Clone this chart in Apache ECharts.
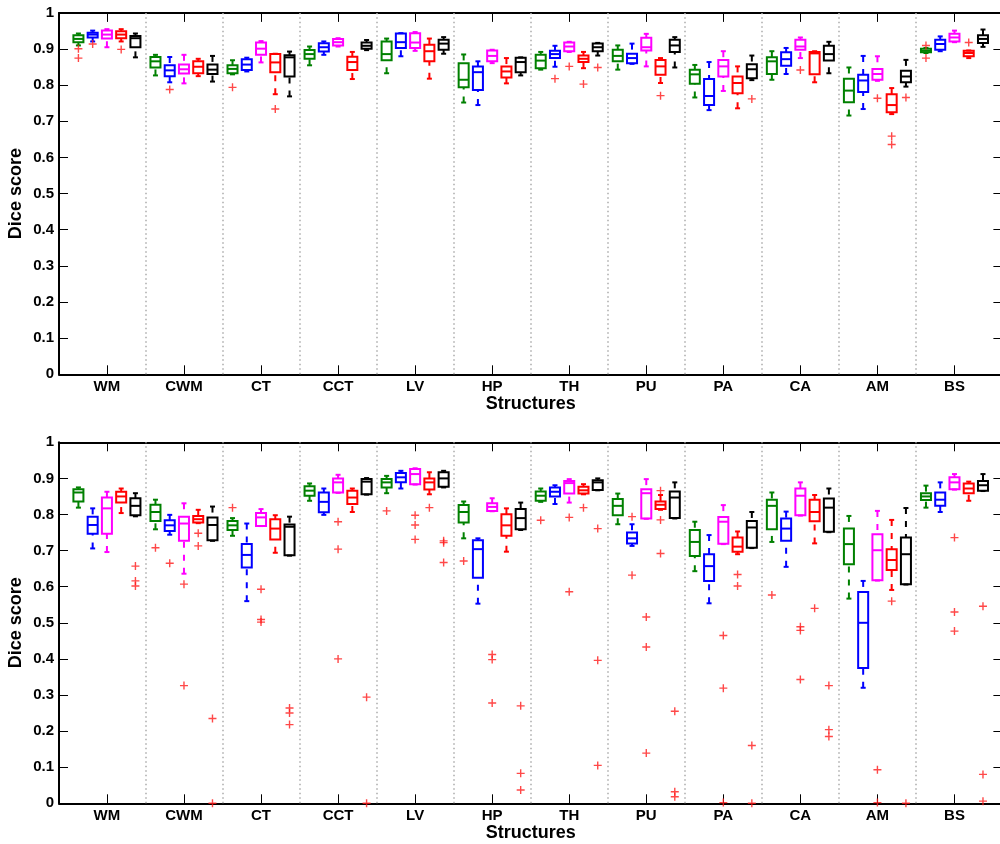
<!DOCTYPE html>
<html>
<head>
<meta charset="utf-8">
<script src="https://cdn.jsdelivr.net/npm/echarts@6/dist/echarts.min.js"></script>
<style>
html,body{margin:0;padding:0;background:#fff;}
#chart{width:1000px;height:844px;}
</style>
</head>
<body>
<div id="chart"></div>
<script>
// ---------------- DATA ----------------
const categories = ['WM','CWM','CT','CCT','LV','HP','TH','PU','PA','CA','AM','BS'];
const methodColors = ['#008000','#0000ff','#ff00ff','#ff0000','#000000'];
const yTicks = [0,0.1,0.2,0.3,0.4,0.5,0.6,0.7,0.8,0.9,1];

// rows: [min whisker, q1, median, q3, max whisker] per category
// ---- top panel ----
const topGreen = [
 [0.910,0.919,0.928,0.938,0.943],[0.827,0.849,0.866,0.878,0.884],[0.830,0.833,0.845,0.855,0.869],
 [0.855,0.873,0.886,0.897,0.907],[0.833,0.869,0.886,0.921,0.929],[0.752,0.794,0.815,0.861,0.885],
 [0.843,0.847,0.868,0.884,0.892],[0.843,0.866,0.881,0.898,0.910],[0.766,0.804,0.830,0.843,0.856],
 [0.815,0.831,0.866,0.877,0.894],[0.716,0.753,0.785,0.818,0.849],[0.889,0.891,0.895,0.901,0.903]];
const topBlue = [
 [0.921,0.932,0.940,0.945,0.951],[0.808,0.825,0.841,0.855,0.878],[0.838,0.842,0.857,0.872,0.876],
 [0.884,0.893,0.905,0.916,0.921],[0.880,0.903,0.919,0.943,0.944],[0.745,0.787,0.836,0.852,0.866],
 [0.851,0.875,0.886,0.895,0.909],[0.859,0.861,0.875,0.887,0.915],[0.731,0.745,0.770,0.817,0.864],
 [0.831,0.854,0.872,0.891,0.903],[0.734,0.781,0.813,0.829,0.881],[0.894,0.898,0.914,0.926,0.935]];
const topMagenta = [
 [0.905,0.929,0.940,0.951,0.955],[0.805,0.832,0.844,0.857,0.884],[0.863,0.884,0.901,0.918,0.922],
 [0.907,0.910,0.919,0.928,0.930],[0.895,0.903,0.918,0.944,0.947],[0.861,0.866,0.881,0.896,0.898],
 [0.892,0.894,0.907,0.918,0.920],[0.852,0.896,0.905,0.931,0.942],[0.784,0.824,0.852,0.870,0.894],
 [0.875,0.898,0.907,0.926,0.932],[0.812,0.815,0.831,0.845,0.880],[0.919,0.921,0.932,0.942,0.951]];
const topRed = [
 [0.921,0.930,0.940,0.949,0.955],[0.825,0.833,0.851,0.866,0.873],[0.775,0.836,0.863,0.886,0.887],
 [0.817,0.842,0.864,0.879,0.892],[0.818,0.866,0.894,0.912,0.929],[0.805,0.821,0.838,0.852,0.875],
 [0.847,0.864,0.873,0.882,0.892],[0.806,0.829,0.852,0.870,0.875],[0.736,0.778,0.806,0.824,0.852],
 [0.808,0.830,0.888,0.892,0.894],[0.720,0.725,0.745,0.775,0.792],[0.875,0.880,0.889,0.895,0.896]];
const topBlack = [
 [0.877,0.905,0.930,0.936,0.943],[0.810,0.831,0.843,0.857,0.881],[0.769,0.824,0.877,0.883,0.893],
 [0.897,0.901,0.909,0.918,0.925],[0.887,0.898,0.915,0.926,0.933],[0.827,0.836,0.864,0.876,0.877],
 [0.882,0.894,0.905,0.915,0.917],[0.849,0.892,0.910,0.926,0.933],[0.814,0.819,0.844,0.858,0.882],
 [0.833,0.868,0.886,0.909,0.920],[0.796,0.808,0.824,0.840,0.870],[0.906,0.917,0.928,0.938,0.954]];
// outliers: [category index, value]
const topOutGreen = [[0,0.901],[0,0.875],[2,0.794],[11,0.910],[11,0.875]];
const topOutBlue = [[0,0.914],[1,0.788],[6,0.818]];
const topOutMagenta = [[6,0.852],[9,0.842],[10,0.764]];
const topOutRed = [[0,0.899],[2,0.734],[6,0.803],[7,0.771],[10,0.659],[10,0.636],[11,0.918]];
const topOutBlack = [[6,0.849],[8,0.762],[10,0.766]];

// ---- bottom panel ----
const botGreen = [
 [0.819,0.836,0.861,0.870,0.875],[0.759,0.782,0.807,0.827,0.841],[0.741,0.757,0.770,0.782,0.790],
 [0.838,0.852,0.866,0.878,0.886],[0.859,0.875,0.889,0.898,0.907],[0.734,0.778,0.807,0.826,0.836],
 [0.835,0.838,0.852,0.864,0.872],[0.773,0.798,0.824,0.843,0.858],[0.643,0.685,0.724,0.757,0.780],
 [0.724,0.759,0.824,0.841,0.861],[0.567,0.662,0.718,0.761,0.796],[0.819,0.840,0.850,0.859,0.880]];
const botBlue = [
 [0.706,0.747,0.771,0.794,0.817],[0.744,0.754,0.770,0.784,0.799],[0.560,0.653,0.688,0.718,0.775],
 [0.799,0.806,0.835,0.861,0.872],[0.872,0.889,0.903,0.915,0.921],[0.553,0.625,0.704,0.729,0.734],
 [0.829,0.850,0.863,0.875,0.881],[0.713,0.720,0.734,0.750,0.773],[0.554,0.616,0.657,0.690,0.743],
 [0.655,0.727,0.761,0.789,0.808],[0.320,0.375,0.500,0.585,0.616],[0.807,0.824,0.841,0.861,0.889]];
const botMagenta = [
 [0.696,0.747,0.817,0.847,0.863],[0.636,0.727,0.775,0.794,0.831],[0.768,0.768,0.792,0.804,0.815],
 [0.860,0.861,0.889,0.900,0.910],[0.883,0.884,0.912,0.926,0.928],[0.809,0.810,0.821,0.831,0.845],
 [0.833,0.858,0.887,0.893,0.898],[0.788,0.789,0.859,0.870,0.898],[0.718,0.719,0.780,0.793,0.826],
 [0.797,0.798,0.852,0.872,0.889],[0.617,0.618,0.701,0.745,0.810],[0.869,0.870,0.889,0.903,0.912]];
const botRed = [
 [0.804,0.833,0.850,0.863,0.872],[0.776,0.778,0.787,0.796,0.813],[0.694,0.731,0.761,0.787,0.798],
 [0.807,0.829,0.847,0.866,0.872],[0.856,0.869,0.889,0.900,0.917],[0.697,0.741,0.770,0.801,0.817],
 [0.856,0.858,0.867,0.877,0.884],[0.813,0.815,0.827,0.836,0.854],[0.690,0.697,0.711,0.736,0.753],
 [0.720,0.781,0.807,0.841,0.854],[0.591,0.646,0.674,0.704,0.785],[0.838,0.859,0.872,0.886,0.891]];
const botBlack = [
 [0.795,0.798,0.824,0.845,0.859],[0.727,0.729,0.771,0.792,0.822],[0.686,0.687,0.766,0.772,0.794],
 [0.855,0.856,0.891,0.898,0.901],[0.875,0.877,0.900,0.917,0.921],[0.757,0.759,0.790,0.815,0.833],
 [0.867,0.868,0.889,0.895,0.900],[0.789,0.790,0.847,0.864,0.889],[0.707,0.708,0.764,0.782,0.807],
 [0.751,0.752,0.819,0.844,0.872],[0.606,0.607,0.690,0.736,0.818],[0.865,0.866,0.881,0.893,0.912]];
const botOutGreen = [[1,0.708],[2,0.819],[4,0.810],[5,0.671],[6,0.784],[9,0.577]];
const botOutBlue = [[1,0.665],[7,0.794],[7,0.632]];
const botOutMagenta = [[1,0.607],[1,0.326],[2,0.593],[2,0.509],[2,0.502],[3,0.780],[3,0.704],[3,0.400],
 [4,0.798],[4,0.771],[4,0.731],[5,0.412],[5,0.398],[5,0.278],[6,0.792],[6,0.586],[7,0.516],[7,0.433],[7,0.139],
 [8,0.465],[8,0.319],[8,0.002],[9,0.489],[9,0.479],[9,0.343],[10,0.093],[10,0.002],[11,0.736],[11,0.530],[11,0.477]];
const botOutRed = [[1,0.748],[1,0.713],[4,0.819],[6,0.819],[7,0.866],[7,0.785],[7,0.692],[8,0.634],[8,0.602],[9,0.540],[10,0.560]];
const botOutBlack = [[0,0.657],[0,0.616],[0,0.602],[1,0.235],[1,0.0],[2,0.264],[2,0.250],[2,0.218],[3,0.294],[3,0.0],
 [4,0.727],[4,0.722],[4,0.667],[5,0.270],[5,0.083],[5,0.037],[6,0.761],[6,0.396],[6,0.105],[7,0.255],[7,0.032],[7,0.018],
 [8,0.160],[8,0.0],[9,0.326],[9,0.204],[9,0.185],[10,0.0],[11,0.546],[11,0.080],[11,0.006]];

// ---------------- LAYOUT / STYLE ----------------
const OFFSETS = [-0.37,-0.185,0,0.185,0.37];   // box offset within a group (group units)
const BOX_W = 0.13;
const X_MIN = -0.622, X_MAX = 11.622;
const FONT = '"Liberation Sans", Arial, Helvetica, sans-serif';

const panels = [
  {boxes:[topGreen,topBlue,topMagenta,topRed,topBlack], outs:[topOutGreen,topOutBlue,topOutMagenta,topOutRed,topOutBlack], top:12.9, height:361.4},
  {boxes:[botGreen,botBlue,botMagenta,botRed,botBlack], outs:[botOutGreen,botOutBlue,botOutMagenta,botOutRed,botOutBlack], top:442.3, height:361}
];

function makeRender(j){
  return function(params, api){
    const x = api.value(0) + OFFSETS[j];
    const pLo = api.coord([x, api.value(1)]);
    const pQ1 = api.coord([x, api.value(2)]);
    const pMed = api.coord([x, api.value(3)]);
    const pQ3 = api.coord([x, api.value(4)]);
    const pHi = api.coord([x, api.value(5)]);
    const bw = api.size([BOX_W, 0])[0];
    const cw = bw / 2;
    const cx = pMed[0];
    const c = methodColors[j];
    const solid = {stroke:c, lineWidth:2, fill:null};
    const dashed = {stroke:c, lineWidth:2, fill:null, lineDash:[6,7]};
    return {type:'group', children:[
      {type:'line', shape:{x1:cx,y1:pHi[1],x2:cx,y2:pQ3[1]}, style:dashed},
      {type:'line', shape:{x1:cx,y1:pLo[1],x2:cx,y2:pQ1[1]}, style:dashed},
      {type:'line', shape:{x1:cx-cw/2,y1:pHi[1],x2:cx+cw/2,y2:pHi[1]}, style:solid},
      {type:'line', shape:{x1:cx-cw/2,y1:pLo[1],x2:cx+cw/2,y2:pLo[1]}, style:solid},
      {type:'rect', shape:{x:cx-bw/2,y:pQ3[1],width:bw,height:pQ1[1]-pQ3[1]}, style:{stroke:c,lineWidth:2,fill:'none'}},
      {type:'line', shape:{x1:cx-bw/2,y1:pMed[1],x2:cx+bw/2,y2:pMed[1]}, style:solid}
    ]};
  };
}

const grids = [], xAxes = [], yAxes = [], series = [];
const tickStyle = {show:true, inside:true, length:9, lineStyle:{color:'#000', width:1}};
const lineStyle = {show:true, onZero:false, lineStyle:{color:'#000', width:2}};
const tickVals = categories.map((_, i) => i);
const seps = categories.slice(1).map((_, i) => i + 0.5);

panels.forEach((p, k) => {
  grids.push({left:59, width:943.4, top:p.top, height:p.height, containLabel:false, outerBoundsMode:'none'});
  xAxes.push({
    type:'value', gridIndex:k, position:'bottom', min:X_MIN, max:X_MAX,
    axisLine:lineStyle, splitLine:{show:false},
    axisTick:Object.assign({customValues:tickVals}, tickStyle),
    axisLabel:{customValues:tickVals, formatter:v => categories[Math.round(v)], color:'#000',
      fontFamily:FONT, fontWeight:'bold', fontSize:15, margin:5},
    name:'Structures', nameLocation:'middle', nameGap:21, nameMoveOverlap:false,
    nameTextStyle:{color:'#000', fontFamily:FONT, fontWeight:'bold', fontSize:18}
  });
  xAxes.push({
    type:'value', gridIndex:k, position:'top', min:X_MIN, max:X_MAX,
    axisLine:lineStyle, splitLine:{show:false},
    axisTick:Object.assign({customValues:tickVals}, tickStyle),
    axisLabel:{show:false}
  });
  yAxes.push({
    type:'value', gridIndex:k, position:'left', min:0, max:1, interval:0.1,
    axisLine:lineStyle, splitLine:{show:false}, axisTick:tickStyle,
    axisLabel:{color:'#000', fontFamily:FONT, fontWeight:'bold', fontSize:15, margin:5,
      formatter:v => String(Math.round(v*10)/10)},
    name:'Dice score', nameLocation:'middle', nameGap:34, nameMoveOverlap:false,
    nameTextStyle:{color:'#000', fontFamily:FONT, fontWeight:'bold', fontSize:18}
  });
  yAxes.push({
    type:'value', gridIndex:k, position:'right', min:0, max:1, interval:0.1,
    axisLine:lineStyle, splitLine:{show:false}, axisTick:tickStyle, axisLabel:{show:false}
  });
  p.boxes.forEach((rows, j) => {
    series.push({
      type:'custom', xAxisIndex:2*k, yAxisIndex:2*k,
      renderItem:makeRender(j), encode:{x:0, y:[1,2,3,4,5]},
      data:rows.map((r, i) => [i].concat(r)), z:3, silent:true
    });
  });
  const outData = [];
  p.outs.forEach((arr, j) => arr.forEach(o => outData.push([o[0] + OFFSETS[j], o[1]])));
  series.push({
    type:'scatter', xAxisIndex:2*k, yAxisIndex:2*k, data:outData, z:4, silent:true,
    symbol:'path://M3.3,0h1.4v8h-1.4zM0,3.3h8v1.4h-8z', symbolSize:8,
    itemStyle:{color:'#ff1a1a'}, clip:false,
    markLine:{silent:true, symbol:['none','none'], label:{show:false}, animation:false,
      lineStyle:{color:'#aaaaaa', type:[1.5,3], width:1.5},
      emphasis:{disabled:true},
      data:seps.map(v => ({xAxis:v}))}
  });
});

const chart = echarts.init(document.getElementById('chart'), null, {renderer:'canvas'});
chart.setOption({
  animation:false, backgroundColor:'#fff',
  grid:grids, xAxis:xAxes, yAxis:yAxes, series:series
});
</script>
</body>
</html>
